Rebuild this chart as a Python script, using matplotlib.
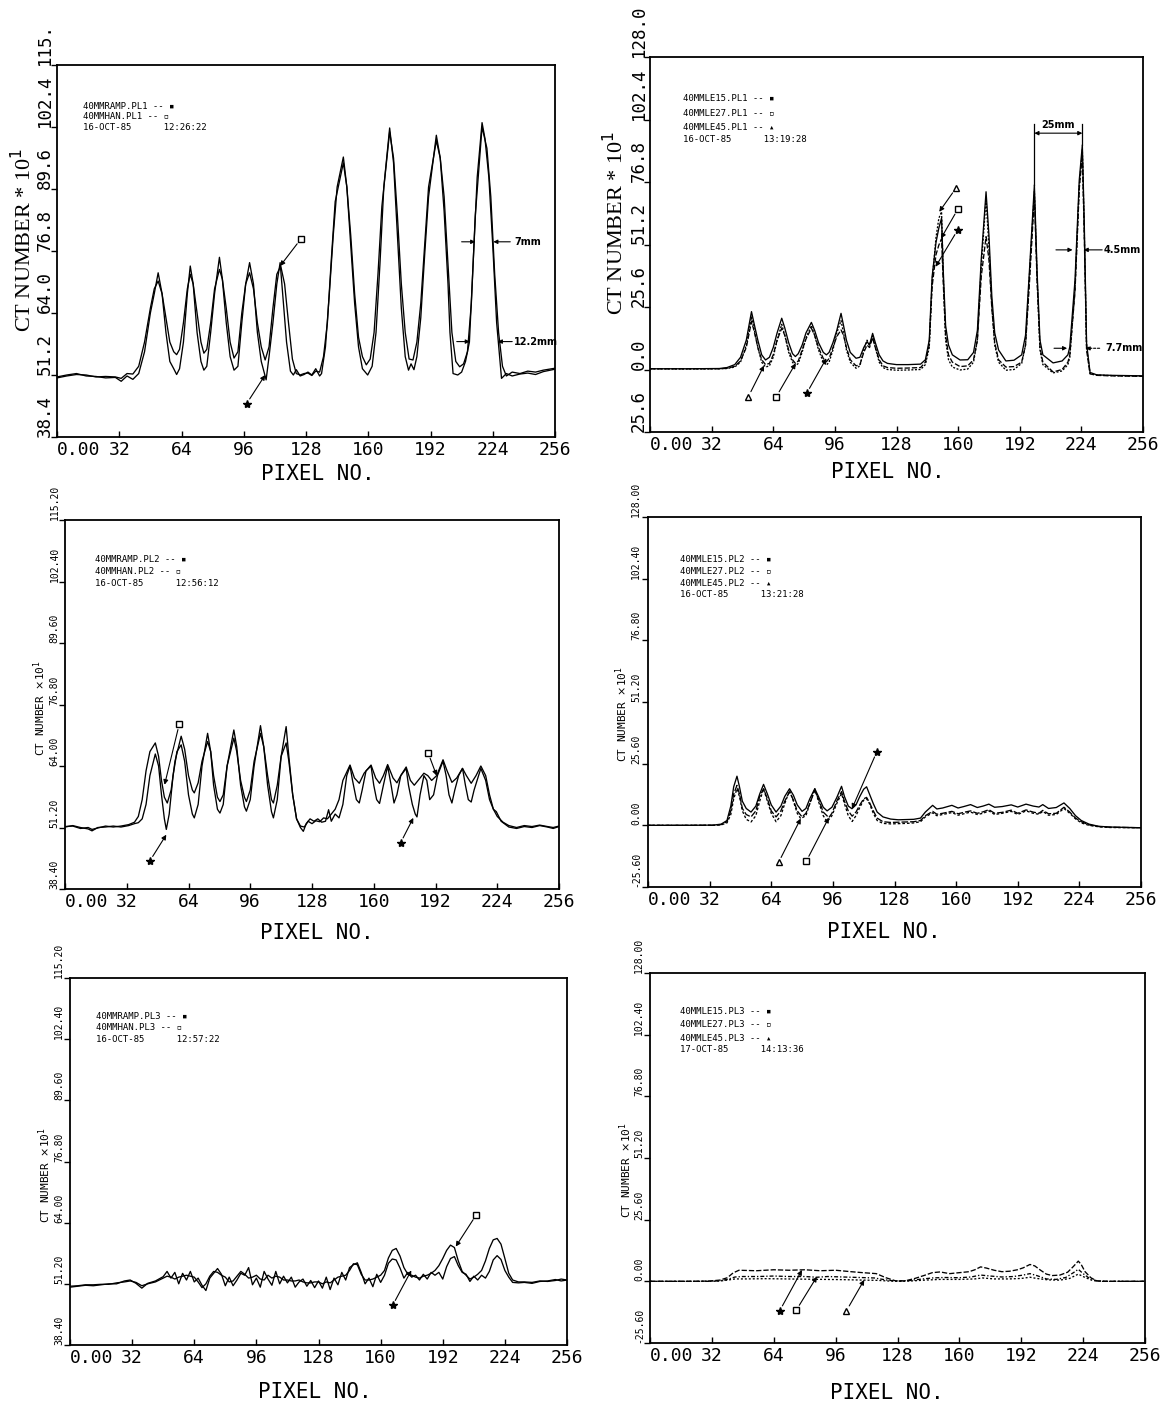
import matplotlib
matplotlib.use("Agg")
import matplotlib.pyplot as plt

W, H = 1163, 1404
MONO = ['DejaVu Sans Mono', 'DejaVu Sans']

# ---------------- data (pixel no., CT number) ----------------
xticks = [0, 32, 64, 96, 128, 160, 192, 224, 256]
xlabels = ['0.00', '32', '64', '96', '128', '160', '192', '224', '256']

ticks_hi = [38.4, 51.2, 64.0, 76.8, 89.6, 102.4, 115.2]
labels_p1 = ['38.4', '51.2', '64.0', '76.8', '89.6', '102.4', '115.']
labels_p3 = ['38.40', '51.20', '64.00', '76.80', '89.60', '102.40', '115.20']
ticks_lo = [-25.6, 0.0, 25.6, 51.2, 76.8, 102.4, 128.0]
labels_p2 = ['25.6', '0.0', '25.6', '51.2', '76.8', '102.4', '128.0']
labels_p4 = ['-25.60', '0.00', '25.60', '51.20', '76.80', '102.40', '128.00']

# panel 1 : 40MMRAMP.PL1 (*) / 40MMHAN.PL1 (box)
ramp1 = [(0,50.8),(5,51.2),(10,51.5),(15,51.0),(20,50.9),(25,50.6),(30,50.7),(33,49.9),(36,51.0),(39,50.3),
         (42,51.5),(45,56),(48,64),(50,68),(52,72.3),(54,68),(56,60),(58,54),(60,52.5),(61.5,51.3),(63,52.5),
         (65,58),(67,68),(68.5,73.7),(70,70),(72,60),(74,54),(75.5,52.2),(77,53),(79,60),(81,68),(83.5,75.5),
         (85,71),(87,62),(89,55),(91,52.2),(93,53),(95,62),(97,70),(99,74.4),(101,70),(103,60),(105,54),
         (107.5,50.2),(109,55),(111,62),(113,70),(114.7,74.4),(116,68),(118,58),(120,52),(121.5,51.2),(123,52.3),
         (125,51.0),(127,51.3),(129,51.8),(131,51.2),(133,52.5),(135,51.0),(136,51.5),(138,57),(140,68),(142,80),
         (144,90),(147.2,96.2),(149,90),(151,78),(153,66),(155,57),(157,52.5),(159.7,51.2),(162,53),(164,60),
         (166,74),(168,90),(171,102.2),(173,95),(175,80),(177,65),(179,55),(180.7,52.2),(182,53.5),(183.5,52.3),
         (185,55),(187,63),(189,76),(191,88),(195,100.7),(197,96),(199,85),(201,70),(202,60),(203.6,51.5),
         (206,51.2),(208,51.8),(210,54),(212,58),(214,75),(216,92),(218.5,103.3),(220,100),(222,92),(224,78),
         (226,62),(228.5,50.5),(231,51.5),(234,51.0),(238,51.4),(242,51.6),(246,51.3),(250,51.9),(256,52.4)]
han1 = [(0,50.6),(5,51.0),(10,51.3),(15,51.2),(20,50.8),(25,50.9),(30,50.8),(33,50.5),(36,51.5),(39,51.4),
        (42,53),(45,58),(48,65),(50,69),(52,70.6),(54,68),(56,63),(58,58),(60,56),(61.5,55.4),(63,56.5),(65,62),
        (67,69),(68.5,72),(70,70),(72,64),(74,58),(75.5,55.7),(77,56.5),(79,62),(81,69),(83.5,73),(85,71),(87,65),
        (89,58),(91,54.7),(93,56),(95,64),(97,70),(99,72.3),(101,69),(103,62),(105,57),(107,54.3),(109,57),
        (111,65),(113,72),(115,73.7),(117,70),(119,62),(121,54.5),(123,51.5),(125,51.2),(127,51.5),(129,51.6),
        (131,51.1),(133,52),(135,51.8),(137,55),(139,62),(141,75),(143,87),(147.2,95),(149,90),(151,80),(153,68),
        (155,59),(157,55),(159,53.3),(161,54.5),(163,60),(165,72),(167,86),(171,101.4),(173,96),(175,84),(177,70),
        (179,60),(181,54.5),(183,54.3),(185,58),(187,66),(189,78),(191,90),(195,99.6),(197,96),(199,88),(201,74),
        (203,60),(205,54),(207,52.9),(209,53.5),(211,56),(213,66),(215,84),(218.5,102.4),(221,98),(223,88),
        (225,72),(227,60),(229,53),(231,51),(234,51.8),(238,51.5),(242,52),(246,51.8),(250,52.2),(256,52.6)]

# panel 2 : 40MMLE15/27/45.PL1
le15_1 = [(0,0.3),(20,0.3),(36,0.4),(40,0.8),(44,2),(47,5),(50,12),(52.7,23.7),(54,19),(56,12),(58,6),(60,3.9),
          (62,5),(64,9),(66,15),(68.4,21),(70,17),(72,11),(74,6.5),(75.5,5.3),(77,6.5),(79,10),(81,15),(83.8,19.3),
          (85.5,16),(87.5,11),(90,7),(91.6,6),(93,7),(95,11),(97,16),(99.2,23),(100.5,18),(102,12),(104,7),(107,4.6),
          (109,5),(111,9),(112.7,11.4),(114,10),(115.6,14.8),(117,11),(119,6),(121,3.5),(123.3,2.5),(128,2),(134,2),
          (140.5,2.2),(143,4),(145,12),(146.5,38),(148.5,52),(150,58),(151.4,62),(152.3,40),(153.5,18),(155,10),
          (157,6),(161,3.9),(165,4),(168,7),(170,16),(172,45),(174.5,72.8),(176,55),(177.5,30),(179,15),(181,8),
          (184.8,3.5),(189,3.8),(193,6),(195,14),(197,40),(199.6,75.6),(201,40),(202.5,12),(204,6),(209.3,2.7),
          (214,3.5),(217,6),(218,9.3),(220.7,36.7),(222.9,77.6),(224.5,92),(225.5,60),(226.7,10.7),(228.5,-1.2),
          (232,-2.2),(240,-2.4),(256,-2.6)]
le27_1 = [(0,0.3),(20,0.3),(36,0.3),(40,0.5),(44,1.3),(47,3.5),(50,9),(52.7,19.6),(54,16),(56,9),(58,4),(60,2),
          (62,2.5),(64,6),(66,12),(68.4,16.9),(70,14),(72,8),(74,4),(75.5,2.5),(77,3.5),(79,8),(81,12.5),(83.8,16.9),
          (85.5,14),(87.5,9),(90,4.5),(91.6,3.2),(93,4.5),(95,9),(97,13.5),(99.2,16.2),(100.5,14),(102,9),(104,4),
          (107,1.5),(109,2),(111,7),(112.7,10),(114,9),(115.6,13),(117,9),(119,4),(121,1.5),(123.3,0.8),(128,0.5),
          (134,0.6),(140.5,0.8),(143,3),(145,10),(146.5,34),(148.5,47),(150,51),(151.4,53.5),(152.3,35),(153.5,14),
          (155,6),(157,3),(161,1.2),(165,1.5),(168,4),(170,12),(172,38),(174.5,54.4),(176,45),(177.5,25),(179,11),
          (181,4),(184.8,1),(189,1.2),(193,3),(195,10),(197,35),(199.6,70.8),(201,36),(202.5,9),(204,3),(209.3,-1.0),
          (214,0),(217,3),(218,6),(220.7,32),(222.9,74),(224.5,88),(225.5,55),(226.7,8),(228.5,-1.8),(232,-2.4),
          (240,-2.6),(256,-2.8)]
le45_1 = [(0,0.3),(20,0.2),(36,0.3),(40,0.4),(44,1),(47,3),(50,10),(52.7,21.5),(54,17),(56,9),(58,3),(60,1.0),
          (62,1.5),(64,5),(66,12),(68.4,18.5),(70,14),(72,7),(74,3),(75.5,1.5),(77,2.5),(79,7),(81,13),(83.8,18),
          (85.5,14),(87.5,8),(90,3),(91.6,1.8),(93,3),(95,8),(97,15),(99.2,20),(100.5,15),(102,8),(104,3),(107,0.5),
          (109,1.5),(111,8),(112.7,12),(114,10),(115.6,13.8),(117,9),(119,3),(121,0.8),(123.3,0),(128,-0.3),
          (134,-0.2),(140.5,0),(143,2),(145,9),(146.5,36),(148.5,54),(150,62),(151.4,64.6),(152.3,38),(153.5,12),
          (155,4),(157,1),(161,-0.2),(165,0.2),(168,3),(170,12),(172,42),(174.5,70),(176,50),(177.5,26),(179,10),
          (181,3),(184.8,-0.3),(189,0),(193,2.5),(195,10),(197,38),(199.6,73),(201,38),(202.5,8),(204,2),
          (209.3,-1.4),(214,-0.6),(217,2),(218,5),(220.7,33),(222.9,75),(224.5,90),(225.5,57),(226.7,9),
          (228.5,-1.6),(232,-2.3),(240,-2.5),(256,-2.7)]

# panel 3 : 40MMRAMP.PL2 / 40MMHAN.PL2
ramp2 = [(0,51.3),(4,51.6),(8,51.2),(12,50.9),(14,50.5),(17,51.2),(21,51.3),(25,51.5),(29,51.3),(33,51.6),(36,52),
         (38,52.2),(40,53),(42,56),(44,62),(46.8,66.5),(48.5,64),(50,58),(51.5,53),(52.5,50.8),(54,54),(56,62),
         (58,67),(60.2,68.4),(62,65),(64,58),(66,54),(67,53.2),(69,56),(71,64),(73.9,70.8),(75.5,67),(77,60),(79,55),
         (80.3,54.2),(82,56),(84,64),(87.5,71.5),(89,68),(91,60),(93,55.5),(94,54.6),(96,57),(98,64),(101.3,72.4),
         (103,68),(105,60),(107,54.5),(108,53.2),(110,57),(112,66),(114.6,72.2),(116,66),(118,58),(120,53),(122,51.2),
         (123.5,50.4),(125,52),(127,53),(129,52.5),(131,53),(133,52.3),(135,52.5),(136.6,54.9),(138,52.5),(140,54),
         (142,53.2),(144,56),(146,62),(147.7,64),(149,61),(151,57),(152.5,56.3),(154,59),(156,63),(158.6,64),
         (160,60),(161.5,57),(163,56.2),(165,60),(167.2,64),(169,60),(170.5,56.3),(172,58),(174,62),(176.8,63.5),
         (178,60),(180,56),(181.5,54),(182.4,53.4),(184,58),(186,62),(187.5,61),(189,57),(191,58),(193,62),
         (195.9,65),(197.5,62),(199,58),(200.5,56.3),(202,59),(204,62),(206,63.5),(207.5,60),(209,57),(210.5,56.5),
         (212,59),(215.5,63.5),(218,61),(220,57),(222,55),(223.5,54.5),(226,52.5),(230,51.3),(234,51.0),(238,51.4),
         (242,51.2),(246,51.6),(250,51.3),(253,51.0),(256,51.4)]
han2 = [(0,51.4),(4,51.5),(8,51.0),(12,51.2),(14,50.8),(17,51.1),(21,51.5),(25,51.3),(29,51.5),(33,51.8),(36,52.3),
        (38,53.5),(40,57),(42,63),(44,67),(46.8,68.8),(48.5,66),(50,61),(51.5,57.5),(53,56.3),(55,59),(57,65),
        (60.2,70.2),(62,67.5),(64,62),(66,59),(67,58.4),(69,60.5),(71,65),(73.9,69.1),(75.5,67),(77,62),(79,57.5),
        (80.3,56.6),(82,58),(84,64),(87.5,69.8),(89,67),(91,61),(93,57.5),(94,56.6),(96,59),(98,65),(101.3,70.8),
        (103,68),(105,62),(107,57),(108,56.3),(110,60),(112,66),(114.6,68.8),(116,65),(118,58),(120,53),(122,51.5),
        (124,51.3),(126,52.5),(128,52),(130,52.6),(132,52.4),(134,53.2),(136,53),(138,54),(140,55),(142,57),
        (144,61),(147.7,64.2),(150,61.5),(152.5,60.4),(155,62.5),(158.6,64.2),(161,61.5),(163,60.4),(165,62),
        (167.2,64.3),(170,61.5),(172,60.5),(174,62),(176.8,63.8),(179,61),(181,60),(183,61),(186,62.5),(188,62),
        (190,61),(192.6,62),(195.9,65.3),(198,63),(200.5,60.6),(203,61.5),(206,63.5),(208,62),(210.5,60.4),
        (213,62),(215.5,64),(218,62),(220,58),(222,55),(224,53.5),(227,52.3),(230,51.6),(234,51.2),(238,51.6),
        (242,51.4),(246,51.7),(250,51.4),(253,51.2),(256,51.5)]

# panel 4 : 40MMLE15/27/45.PL2
le15_2 = [(0,0),(20,0),(34,0.1),(38,0.5),(41,2),(43,8),(44.5,16),(46.2,20.4),(47.5,16),(49,10),(51,7),(53.5,5.5),
          (56,8),(58,13),(60,17),(62,13),(64,8.5),(66.5,5.5),(69,8),(71,12),(73.5,15.2),(75.5,12.5),(77.5,8.5),
          (80,5.8),(82,7),(84,11),(86.6,15.2),(88.5,12),(91,7.5),(93,6),(95.5,7.5),(98,11.5),(100.5,16.2),(102,12),
          (104,8),(105.9,6.9),(108,8.5),(110,12),(112,15),(113.5,16),(115,13),(117,9),(119,5.5),(122,3.5),(126,2.6),
          (130,2.3),(134,2.4),(138,2.5),(141.5,3),(144,5.5),(147.8,8.3),(150,6.8),(153,7.2),(157.8,8.3),(161,7.2),
          (164,7.8),(167.5,8.6),(171,7.4),(174,8),(177,8.8),(180,7.5),(184,7.8),(188.6,8.5),(192,7.6),(196.3,8.8),
          (200,8),(203,7.6),(205,8.6),(208,7),(212,7.4),(216,9.3),(219,7),(222,4),(225,2),(229,0.5),(234,-0.4),
          (240,-0.7),(256,-1)]
le27_2 = [(0,0),(20,0),(34,0),(38,0.3),(41,1.5),(43,6),(44.5,13),(46.2,16.6),(47.5,13),(49,7),(51,4.5),(53.5,3.5),
          (56,6),(58,12),(60,15.2),(62,11),(64,6),(66.5,3.5),(69,6),(71,10),(73.5,13.9),(75.5,10.5),(77.5,6),(80,3.5),
          (82,5),(84,9),(86.6,14.5),(88.5,11),(91,5.5),(93.9,3.2),(95.5,5),(98,10),(100.5,14),(102,10),(104,6),
          (106,3.8),(108,5.5),(110,8.5),(112,11),(113.5,11.6),(115,9.5),(117,6),(119,3),(122,1.5),(126,1.2),(130,1.3),
          (134,1.4),(138,1.5),(141.5,2),(144,4),(147.8,5.8),(150,4.6),(153,5),(157.8,5.8),(161,4.8),(164,5.4),
          (167.5,6),(171,5),(174,5.6),(177,6.5),(180,5),(184,5.4),(188.6,6.3),(192,5),(196.3,6.4),(200,5.5),(203,5),
          (205,6.2),(208,4.8),(212,5),(216,7.5),(219,5.5),(222,3),(225,1.5),(229,0.2),(234,-0.5),(240,-0.8),(256,-1)]
le45_2 = [(0,0),(20,0),(34,0),(38,0.2),(41,1),(43,4.5),(44.5,11),(46.2,15.2),(47.5,12),(49,6),(51,2.5),(53.5,1.4),
          (56,4),(58,10),(60,15.2),(62,10),(64,5),(66.5,1.5),(69,4),(71,9),(73.5,14.5),(75.5,10),(77.5,5),(79.3,2.8),
          (82,4),(84,9),(86.6,15.2),(88.5,10),(91,4),(93,1.5),(95.5,4),(98,9),(100.5,13.2),(102,9),(104,4),(106,1.6),
          (108,4),(110,7.5),(112,10.5),(113.5,11.1),(115,9),(117,5),(119,2),(122,0.8),(126,0.6),(130,0.7),(134,0.8),
          (138,1),(141.5,1.5),(144,3.5),(147.8,5.2),(150,4),(153,4.5),(157.8,5.3),(161,4.2),(164,4.8),(167.5,5.5),
          (171,4.5),(174,5),(177,6),(180,4.5),(184,5),(188.6,5.8),(192,4.5),(196.3,6),(200,5),(203,4.6),(205,5.8),
          (208,4.2),(212,4.5),(216,7),(219,5),(222,2.7),(225,1),(229,0),(234,-0.6),(240,-0.9),(256,-1)]

# panel 5 : 40MMRAMP.PL3 / 40MMHAN.PL3
ramp3 = [(0,50.5),(4,50.7),(8,50.9),(12,50.8),(16,51.0),(20,51.2),(24,51.2),(28,51.8),(31,52.0),(34,51.3),(37,50.3),
         (40,51.3),(44,51.8),(48,52.7),(50,53.8),(52,52.4),(54,53.6),(56,51.2),(58,53.4),(60,52.0),(62,53.8),(64,51.6),
         (66,52.4),(68,50.9),(70,49.8),(72,52.4),(74,53.4),(76,54.4),(78,53.2),(80,50.8),(82,52.6),(84,50.8),(86,52.0),
         (88,53.4),(90,53.0),(92,54.6),(94,51.0),(96,52.4),(98,50.5),(100,53.8),(102,52.2),(104,50.9),(106,53.8),
         (108,51.2),(110,52.8),(112,51.4),(114,52.6),(116,50.5),(118,51.6),(120,52.2),(122,50.7),(124,51.9),
         (126,50.4),(128,51.8),(130,50.3),(132,52.6),(134,50.0),(136,52.4),(138,51.0),(140,53.6),(142,52.0),
         (144,54.6),(146,55.2),(148,55.6),(150,53.6),(152,51.2),(154,52.4),(156,50.6),(158,53.2),(160,51.5),
         (162,53.0),(164,55.5),(166,56.4),(168,56.2),(170,54.5),(172,52.4),(174,53.6),(176,52.6),(178,53.0),
         (180,52.0),(182,53.2),(184,52.2),(186,53.6),(188,53.0),(190,53.6),(192,52.2),(194,54.8),(196,56.5),
         (198,56.9),(200,55.0),(202,53.6),(204,53.2),(206,51.7),(208,52.8),(210,52.0),(212,53.0),(214,52.4),
         (216,53.8),(218,56.2),(220,57.1),(222,56.3),(224,54.0),(226,52.6),(228,51.5),(231,51.4),(234,51.5),
         (238,51.3),(242,51.7),(246,51.8),(250,52.1),(253,51.8),(256,52.0)]
han3 = [(0,50.7),(4,50.8),(8,51.0),(12,51.0),(16,51.1),(20,51.1),(24,51.4),(28,51.6),(31,51.8),(34,51.5),(37,50.8),
        (40,51.2),(44,51.6),(48,52.4),(50,52.8),(52,52.6),(54,52.2),(56,52.6),(58,52.8),(60,53.0),(62,52.8),(64,52.6),
        (66,51.6),(68,50.4),(70,51.2),(72,52.8),(74,53.8),(76,53.6),(78,53.0),(80,52.6),(82,51.6),(84,51.8),(86,52.8),
        (88,53.8),(90,53.2),(92,52.4),(94,52.6),(96,53.0),(98,52.2),(100,52.0),(102,53.0),(104,52.4),(106,52.8),
        (108,52.6),(110,52.0),(112,52.0),(114,51.8),(116,51.8),(118,52.0),(120,51.6),(122,51.4),(124,51.4),
        (126,51.6),(128,51.6),(130,51.2),(132,51.6),(134,51.4),(136,52.0),(138,52.6),(140,52.8),(142,53.0),
        (144,54.0),(146,55.4),(148,55.2),(150,53.2),(152,52.0),(154,52.0),(156,52.2),(158,52.6),(160,53.0),
        (162,54.0),(164,56.6),(166,58.2),(168,58.6),(170,57.0),(172,54.6),(174,53.2),(176,53.0),(178,52.6),
        (180,52.4),(182,52.8),(184,53.0),(186,53.4),(188,54.0),(190,55.0),(192,56.5),(194,58.2),(196,59.3),
        (198,58.8),(200,56.0),(202,53.8),(204,53.0),(206,52.2),(208,52.6),(210,53.2),(212,54.0),(214,56.0),
        (216,58.6),(218,60.4),(220,60.7),(222,59.5),(224,56.5),(226,53.4),(228,52.0),(231,51.6),(234,51.6),
        (238,51.5),(242,51.8),(246,51.7),(250,51.9),(253,52.2),(256,52.0)]

# panel 6 : 40MMLE15/27/45.PL3
le15_3 = [(0,0),(20,0),(30,0.1),(36,0.5),(40,1.5),(43,3.5),(46,4.6),(55,4.4),(64,4.8),(72,4.6),(80,4.8),(88,4.4),
          (96,4.6),(104,4.0),(110,3.6),(117,3.2),(122,1.5),(127,0.2),(132,0.2),(137,1.2),(142,2.5),(146,3.6),
          (150,3.9),(155,3.2),(160,3.6),(165,4.0),(168,4.8),(171,6.0),(174,5.5),(178,4.6),(182,4.0),(186,4.2),
          (190,4.8),(193,5.6),(196.5,7.0),(199,6.4),(202,4.6),(205,3.0),(208,2.4),(212,2.6),(216,3.8),(219,6.2),
          (221.5,8.4),(223,7.0),(225,4.0),(228,1.5),(231,0.2),(236,0),(256,0)]
le27_3 = [(0,0),(30,0),(36,0.2),(40,0.8),(44,1.8),(48,2.0),(56,2.0),(64,2.2),(72,2.0),(80,2.0),(86.3,1.7),(92,2.0),
          (100,1.8),(108,1.6),(116,1.4),(122,0.6),(127,0.1),(134,0.3),(140,0.9),(146,1.4),(152,1.6),(160,1.5),
          (166,1.8),(171,2.6),(176,2.2),(182,1.8),(188,2.0),(193,2.6),(196.5,3.2),(200,2.4),(205,1.0),(210,0.8),
          (215,1.6),(219,3.6),(221.5,5.0),(224,3.2),(227,1.4),(231,0.2),(236,0),(256,0)]
le45_3 = [(0,0),(30,0),(36,0.1),(40,0.5),(44,1.0),(50,1.0),(60,1.1),(70,1.0),(80,0.9),(90,0.8),(100,0.7),
          (110.8,0.5),(118,0.4),(124,0.1),(130,0),(136,0.2),(142,0.5),(150,0.8),(160,0.8),(168,1.0),(172,1.4),
          (178,1.0),(186,1.0),(192,1.2),(196.5,1.7),(200,1.2),(206,0.6),(212,0.5),(217,1.2),(221.5,3.0),(225,1.6),
          (229,0.3),(234,0),(256,0)]

# header text of every plot
legend1 = ['40MMRAMP.PL1 -- \u25aa', '40MMHAN.PL1 -- \u25ab', '16-OCT-85      12:26:22']
legend2 = ['40MMLE15.PL1 -- \u25aa', '40MMLE27.PL1 -- \u25ab', '40MMLE45.PL1 -- \u25b4', '16-OCT-85      13:19:28']
legend3 = ['40MMRAMP.PL2 -- \u25aa', '40MMHAN.PL2 -- \u25ab', '16-OCT-85      12:56:12']
legend4 = ['40MMLE15.PL2 -- \u25aa', '40MMLE27.PL2 -- \u25ab', '40MMLE45.PL2 -- \u25b4', '16-OCT-85      13:21:28']
legend5 = ['40MMRAMP.PL3 -- \u25aa', '40MMHAN.PL3 -- \u25ab', '16-OCT-85      12:57:22']
legend6 = ['40MMLE15.PL3 -- \u25aa', '40MMLE27.PL3 -- \u25ab', '40MMLE45.PL3 -- \u25b4', '17-OCT-85      14:13:36']


def box(l, t, r, b):
    return [l / W, 1 - b / H, (r - l) / W, (b - t) / H]


def panel(rect, ylim, yticks, ylabels, yfs, ypad):
    ax = fig.add_axes(box(*rect))
    ax.set_xlim(0, 256)
    ax.set_ylim(*ylim)
    ax.set_xticks(xticks)
    ax.set_xticklabels(xlabels, family=MONO, fontsize=13)
    ax.get_xticklabels()[0].set_ha('left')
    ax.set_yticks(yticks)
    ax.set_yticklabels(ylabels, family=MONO, fontsize=yfs, rotation=90,
                       rotation_mode='anchor', ha='left', va='center')
    ax.tick_params(axis='x', direction='in', length=4, pad=3, width=1)
    ax.tick_params(axis='y', direction='out', length=4, pad=ypad, width=1)
    for s in ax.spines.values():
        s.set_linewidth(1.3)
    return ax


def curve(ax, pts, ls='-'):
    xs, ys = zip(*pts)
    ax.plot(xs, ys, color='k', lw=0.95, ls=ls)


def note(ax, sym, at, to):
    mk = {'*': dict(marker='*', ms=6, mfc='k'),
          's': dict(marker='s', ms=4.5, mfc='white'),
          '^': dict(marker='^', ms=5, mfc='white')}[sym]
    ax.plot(at[0], at[1], color='k', mec='k', mew=1, ls='none', **mk)
    ax.annotate('', xy=to, xytext=at,
                arrowprops=dict(arrowstyle='-|>', color='k', lw=0.8, mutation_scale=7,
                                shrinkA=4, shrinkB=0))


def header(ax, lines, x, ys):
    for s, y in zip(lines, ys):
        ax.text(x, y, s, family=MONO, fontsize=6.5, va='center', ha='left')


def arrow(ax, x0, x1, y, ls='-'):
    ax.annotate('', xy=(x1, y), xytext=(x0, y),
                arrowprops=dict(arrowstyle='-|>', color='k', lw=0.8, ls=ls, mutation_scale=6,
                                shrinkA=0, shrinkB=0))


def bigtext(x, y, s, **kw):
    fig.text(x / W, 1 - y / H, s, ha='center', va='center', **kw)


fig = plt.figure(figsize=(W / 100, H / 100), dpi=100)

# ---- panel 1
ax1 = panel((57, 65, 555, 437), (38.4, 115.2), ticks_hi, labels_p1, 12.5, 5)
curve(ax1, ramp1)
curve(ax1, han1)
header(ax1, legend1, 13.4, [106.6, 104.5, 102.4])
note(ax1, 's', (125.2, 79.2), (114.7, 73.7))
note(ax1, '*', (97.5, 45.3), (107, 51.2))
arrow(ax1, 208, 215, 78.7)
arrow(ax1, 233, 224.3, 78.7)
ax1.text(235, 78.7, '7mm', fontsize=7, weight='bold', va='center')
arrow(ax1, 205.5, 212.2, 58.1)
arrow(ax1, 234, 226.6, 58.1)
ax1.text(235, 58.1, '12.2mm', fontsize=7, weight='bold', va='center')

# ---- panel 2
ax2 = panel((650, 57, 1143, 432), (-25.6, 128.0), ticks_lo, labels_p2, 12.5, 4)
curve(ax2, le15_1)
curve(ax2, le27_1, (0, (4, 1.5)))
curve(ax2, le45_1, (0, (1.5, 1.2)))
header(ax2, legend2, 17.3, [110.9, 104.7, 99.2, 94.4])
note(ax2, '^', (158.8, 74.2), (150.2, 64.6))
note(ax2, 's', (159.8, 65.6), (151.1, 53.7))
note(ax2, '*', (159.8, 57.2), (148.3, 42.1))
note(ax2, '^', (51.1, -11.1), (59.2, 1.6))
note(ax2, 's', (65.6, -11.1), (75.6, 2.5))
note(ax2, '*', (81.4, -9.7), (91.6, 4.6))
ax2.plot([199.6, 199.6], [75.6, 100.5], color='k', lw=0.9)
ax2.plot([224.5, 224.5], [92, 100.5], color='k', lw=0.9)
ax2.annotate('', xy=(199.6, 96.8), xytext=(224.5, 96.8),
             arrowprops=dict(arrowstyle='<|-|>', color='k', lw=0.8, mutation_scale=6,
                             shrinkA=0, shrinkB=0))
ax2.text(212, 98.3, '25mm', fontsize=7, weight='bold', ha='center', va='bottom')
arrow(ax2, 210.8, 219.4, 49)
arrow(ax2, 234.8, 225.2, 49)
ax2.text(235.8, 49, '4.5mm', fontsize=7, weight='bold', va='center')
arrow(ax2, 209.8, 216.6, 8.7)
arrow(ax2, 233.5, 226.2, 8.7, ls=(0, (2, 1.5)))
ax2.text(236.3, 8.7, '7.7mm', fontsize=7, weight='bold', va='center')

# ---- panel 3
ax3 = panel((65, 520, 559, 889), (38.4, 115.2), ticks_hi, labels_p3, 7, 3.5)
curve(ax3, ramp2)
curve(ax3, han2)
header(ax3, legend3, 15.3, [106.9, 104.5, 102.0])
note(ax3, 's', (59.2, 72.7), (51.6, 60.1))
note(ax3, '*', (43.9, 44.2), (52.5, 49.7))
note(ax3, 's', (188.2, 66.7), (192.6, 62))
note(ax3, '*', (173.9, 48), (180.5, 53.2))

# ---- panel 4
ax4 = panel((648, 517, 1141, 887), (-25.6, 128.0), ticks_lo, labels_p4, 7, 4.5)
curve(ax4, le15_2)
curve(ax4, le27_2, (0, (5, 1.5)))
curve(ax4, le45_2, (0, (2, 1.5)))
header(ax4, legend4, 16.4, [110.3, 105.4, 100.6, 95.7])
note(ax4, '*', (118.8, 30.5), (105.9, 6.9))
note(ax4, '^', (67.8, -15.4), (79.3, 2.8))
note(ax4, 's', (82.2, -14.9), (93.9, 3.2))

# ---- panel 5
ax5 = panel((70, 978, 567, 1345), (38.4, 115.2), ticks_hi, labels_p3, 7, 4)
curve(ax5, ramp3)
curve(ax5, han3)
header(ax5, legend5, 13.4, [107.2, 104.8, 102.3])
note(ax5, 's', (209.2, 65.6), (198.7, 59))
note(ax5, '*', (166.2, 46.7), (175.8, 54))

# ---- panel 6
ax6 = panel((650, 973, 1145, 1343), (-25.6, 128.0), ticks_lo, labels_p4, 7, 4)
curve(ax6, le15_3, (0, (4, 1.5)))
curve(ax6, le27_3, (0, (3, 1.5, 1, 1.5)))
curve(ax6, le45_3, (0, (1.5, 1.5)))
header(ax6, legend6, 15.3, [112.1, 106.5, 101.0, 96.1])
note(ax6, '*', (67.1, -12.2), (78.6, 4.7))
note(ax6, 's', (75.7, -11.9), (86.3, 1.9))
note(ax6, '^', (101.6, -12.2), (110.8, 0.6))

# axis titles
for x, y in [(318, 474), (888, 472), (317, 933), (884, 932), (315, 1392), (887, 1393)]:
    bigtext(x, y, 'PIXEL NO.', family=MONO, fontsize=15)
bigtext(24, 240, 'CT NUMBER * 10$^1$', family='Liberation Serif', fontsize=16, rotation=90)
bigtext(616, 223, 'CT NUMBER * 10$^1$', family='Liberation Serif', fontsize=16, rotation=90)
for x, y in [(40, 708), (622, 714), (45, 1175), (626, 1170)]:
    bigtext(x, y, 'CT NUMBER $\\times$10$^1$', family=MONO, fontsize=8, rotation=90)

fig.savefig('out.png', dpi=100)
